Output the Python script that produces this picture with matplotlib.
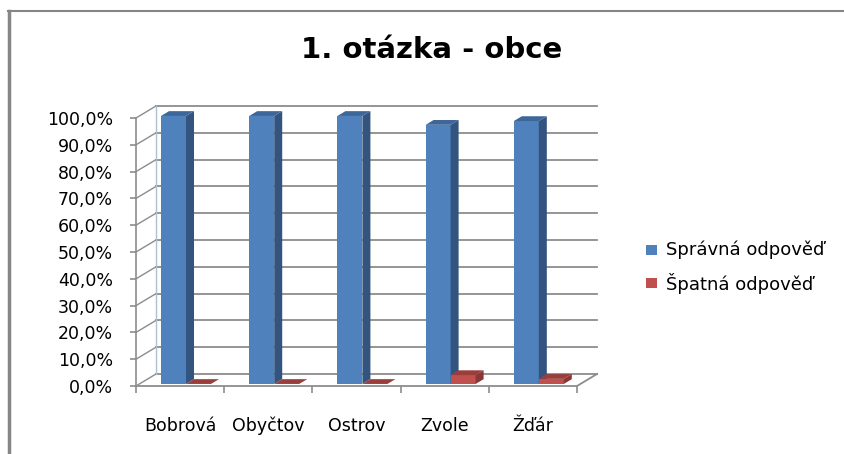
import matplotlib.pyplot as plt
from matplotlib.lines import Line2D
from matplotlib.patches import Rectangle, Polygon
from matplotlib.ticker import FuncFormatter, FixedLocator

obce = ['Bobrová', 'Obyčtov', 'Ostrov', 'Zvole', 'Žďár']
spravna = [100.0, 100.0, 100.0, 96.7, 98.1]
spatna = [0.0, 0.0, 0.0, 3.3, 1.9]
serie = ['Správná odpověď', 'Špatná odpověď']

# front, side, top colours per series
barvy = [('#4F81BD', '#32547F', '#3D6699'),
         ('#C0504D', '#8A3634', '#9A3E3B')]
grid_c = '#8C8C8C'

W, H = 844, 454
fig = plt.figure(figsize=(W / 100, H / 100), dpi=100)

# axes: x 0..5 categories, y 0..100 % (front plane)
x_px, y_px = 136, 386
cat_px, pct_px = 88.2, 2.68
ax = fig.add_axes([x_px / W, (H - y_px) / H, 5 * cat_px / W, 100 * pct_px / H])
ax.set_xlim(0, 5)
ax.set_ylim(0, 100)

# oblique depth (walls 20 px right, 12 px up)
DX = 20 / cat_px
DY = 12 / pct_px

for s in ['top', 'right', 'bottom']:
    ax.spines[s].set_visible(False)
ax.spines['left'].set_color(grid_c)
ax.spines['left'].set_linewidth(1.2)

ticks = list(range(0, 101, 10))
ax.yaxis.set_major_locator(FixedLocator(ticks))
ax.yaxis.set_major_formatter(FuncFormatter(lambda v, p: f'{v:.1f}'.replace('.', ',') + '%'))
ax.tick_params(axis='y', length=4.5, width=1.2, color=grid_c, pad=12, labelsize=12.5)

# back wall + left wall grid
for t in ticks:
    ax.add_line(Line2D([DX, 5 + DX], [t + DY, t + DY], color=grid_c, lw=1.3, clip_on=False, zorder=1))
    ax.add_line(Line2D([0, DX], [t, t + DY], color=grid_c, lw=1.0, clip_on=False, zorder=1))
ax.add_line(Line2D([DX, DX], [DY, 100 + DY], color='#B0C0D0', lw=1.0, clip_on=False, zorder=1))

# floor edges
ax.add_line(Line2D([0, 5, 5 + DX], [0, 0, DY], color=grid_c, lw=1.3, clip_on=False, zorder=1))

# category axis: ticks between categories, labels in the middle
ax.xaxis.set_major_locator(FixedLocator([i + 0.5 for i in range(5)]))
ax.set_xticklabels(obce)
ax.xaxis.set_minor_locator(FixedLocator(range(6)))
ax.tick_params(axis='x', which='major', length=0, pad=22, labelsize=12.5)
ax.tick_params(axis='x', which='minor', length=5, width=1.2, color=grid_c)

d0, d1 = 0.17, 0.57
bw = 25 / cat_px
off = 0.245


def bar3d(x0, v, c):
    fx = x0 + d0 * DX
    fy = d0 * DY
    ax.bar(fx, v, bottom=fy, width=bw, align='edge', color=c[0], lw=0, zorder=3, clip_on=False)
    side = [(fx + bw, fy), (x0 + bw + d1 * DX, d1 * DY),
            (x0 + bw + d1 * DX, v + d1 * DY), (fx + bw, v + fy)]
    top = [(fx, v + fy), (fx + bw, v + fy),
           (x0 + bw + d1 * DX, v + d1 * DY), (x0 + d1 * DX, v + d1 * DY)]
    ax.add_patch(Polygon(side, closed=True, fc=c[1], lw=0, zorder=3, clip_on=False))
    ax.add_patch(Polygon(top, closed=True, fc=c[2], lw=0, zorder=3, clip_on=False))


for i in range(len(obce)):
    bar3d(i + off, spravna[i], barvy[0])
    bar3d(i + off + bw, spatna[i], barvy[1])

fig.text(432 / W, 1 - 50 / H, '1. otázka - obce', ha='center', va='center',
         fontsize=21, fontweight='bold')

# legend
for k, name in enumerate(serie):
    yy = 250 + 33 * k
    fig.patches.append(Rectangle((646 / W, 1 - (yy + 5) / H), 11 / W, 10 / H,
                                 transform=fig.transFigure, fc=barvy[k][0], lw=0))
    fig.text(666 / W, 1 - yy / H, name, ha='left', va='center', fontsize=13)

# chart border (top and left)
fig.add_artist(Line2D([8 / W, 1], [1 - 11 / H, 1 - 11 / H], color='#868686', lw=1.5))
fig.add_artist(Line2D([9 / W, 9 / W], [0, 1 - 11 / H], color='#868686', lw=2.5))

fig.savefig('out.png', dpi=100)
